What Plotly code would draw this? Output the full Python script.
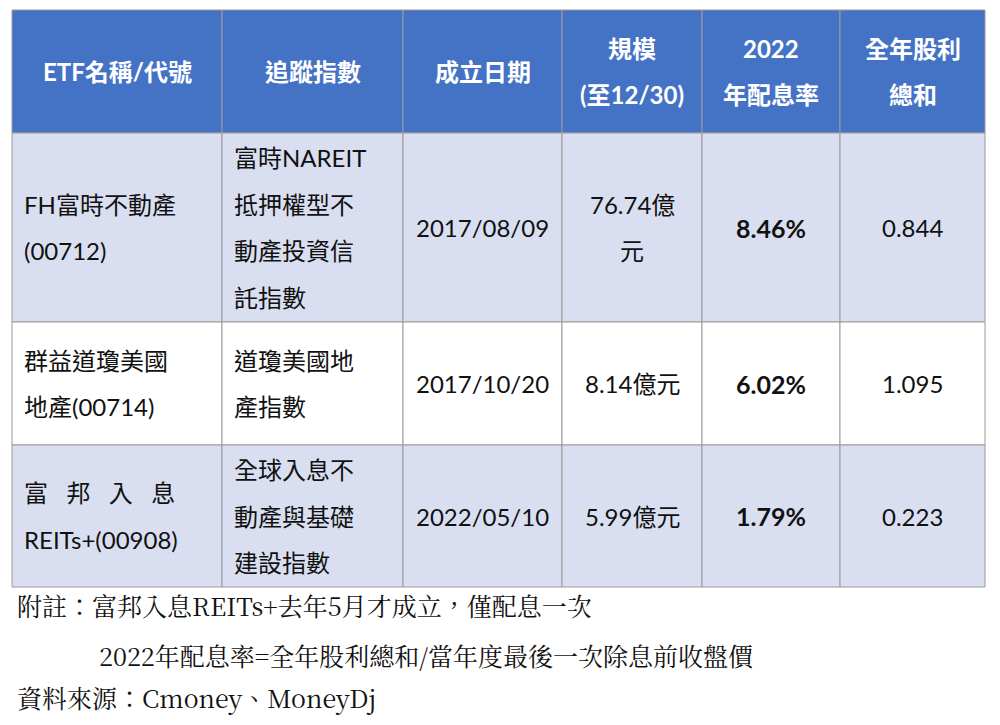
import plotly.graph_objects as go

# table content
header = ["ETF名稱/代號", "追蹤指數", "成立日期", "規模\n(至12/30)", "2022\n年配息率", "全年股利\n總和"]
etf_names = ["FH富時不動產\n(00712)", "群益道瓊美國\n地產(00714)", "富   邦   入   息\nREITs+(00908)"]
indexes = ["富時NAREIT\n抵押權型不\n動產投資信\n託指數", "道瓊美國地\n產指數", "全球入息不\n動產與基礎\n建設指數"]
dates = ["2017/08/09", "2017/10/20", "2022/05/10"]
sizes = ["76.74億\n元", "8.14億元", "5.99億元"]
yields = ["8.46%", "6.02%", "1.79%"]
dividends = ["0.844", "1.095", "0.223"]
notes = ["附註：富邦入息REITs+去年5月才成立，僅配息一次",
         "2022年配息率=全年股利總和/當年度最後一次除息前收盤價",
         "資料來源：Cmoney、MoneyDj"]

col_edges = [12, 222, 403, 562, 702, 840, 985]
row_edges = [10, 133, 322, 445, 587]
row_fill = ["#4472c4", "#d9dff0", "#ffffff", "#d9dff0"]
LINE = 46.5
FONT = "Lato, Noto Sans CJK TC, sans-serif"

fig = go.Figure()
fig.add_trace(go.Scatter(x=[8, 1008], y=[8, 733], mode="markers", marker=dict(opacity=0), hoverinfo="skip"))

rows = [header] + [list(r) for r in zip(etf_names, indexes, dates, sizes, yields, dividends)]
for ri, row in enumerate(rows):
    y0, y1 = row_edges[ri], row_edges[ri + 1]
    for ci, text in enumerate(row):
        x0, x1 = col_edges[ci], col_edges[ci + 1]
        fig.add_shape(type="rect", x0=x0, x1=x1, y0=y0, y1=y1,
                      fillcolor=row_fill[ri], line=dict(color="#9a9a9a", width=1), layer="below")
        lines = text.split("\n")
        yc = (y0 + y1) / 2
        left = ri > 0 and ci < 2
        for li, ln in enumerate(lines):
            yy = yc + (li - (len(lines) - 1) / 2) * LINE
            bold = ri > 0 and ci == 4
            fig.add_annotation(
                x=x0 + 10 if left else (x0 + x1) / 2, y=yy,
                text=f"<b>{ln}</b>" if bold else ln,
                showarrow=False, xanchor="left" if left else "center", yanchor="middle",
                font=dict(family=FONT, size=25 if ci == 4 and ri > 0 else 24,
                          color="white" if ri == 0 else "#111111",
                          weight="bold" if ri == 0 else "normal"))

note_x = [15, 97, 15]
note_y = [605, 655, 697]
for t, nx, ny in zip(notes, note_x, note_y):
    fig.add_annotation(x=nx, y=ny, text=t, showarrow=False, xanchor="left", yanchor="middle",
                       font=dict(family="Noto Serif CJK TC, Liberation Serif, Noto Sans CJK TC", size=25, color="#111111"))

fig.update_xaxes(range=[8, 1008], visible=False)
fig.update_yaxes(range=[733, 8], visible=False)
fig.update_layout(width=1000, height=725, margin=dict(l=0, r=0, t=0, b=0),
                  plot_bgcolor="white", paper_bgcolor="white", showlegend=False)
fig.write_html("out.html")
